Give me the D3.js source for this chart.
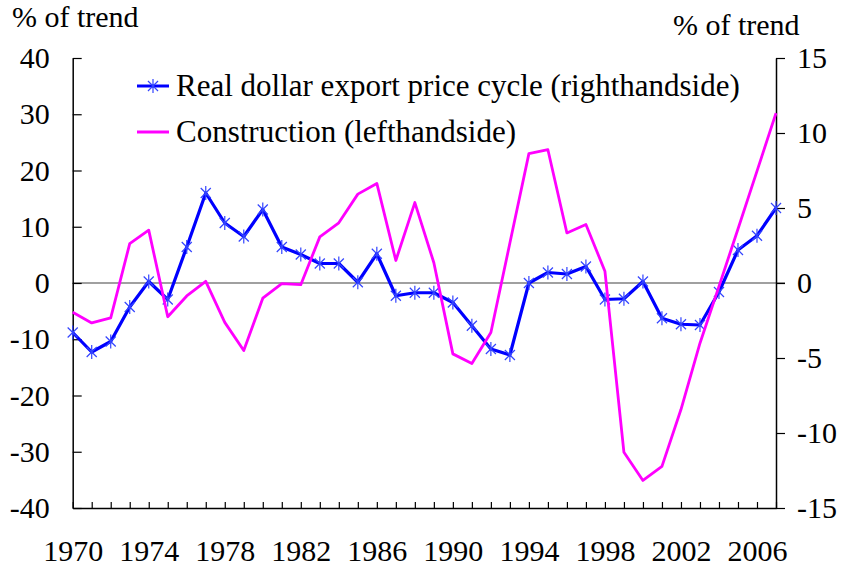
<!DOCTYPE html>
<html>
<head>
<meta charset="utf-8">
<script src="https://cdn.jsdelivr.net/npm/d3@7"></script>
<style>
  body { margin: 0; background: #fff; }
  text { font-family: "Liberation Serif", "Times New Roman", serif; fill: #000; }
</style>
</head>
<body>
<div id="chart"></div>
<script>
// Export price cycle vs construction, % of trend

var years = [1970, 1971, 1972, 1973, 1974, 1975, 1976, 1977, 1978, 1979,
    1980, 1981, 1982, 1983, 1984, 1985, 1986, 1987, 1988, 1989,
    1990, 1991, 1992, 1993, 1994, 1995, 1996, 1997, 1998, 1999,
    2000, 2001, 2002, 2003, 2004, 2005, 2006, 2007];

// righthand axis
var exportPrice = [-3.3, -4.6, -3.9, -1.6, 0.1, -1.1, 2.4, 6.0, 4.0, 3.1,
    4.9, 2.4, 1.9, 1.3, 1.3, 0.05, 1.95, -0.85, -0.65, -0.65,
    -1.3, -2.85, -4.4, -4.8, 0.0, 0.7, 0.6, 1.1, -1.1, -1.05,
    0.1, -2.35, -2.75, -2.8, -0.6, 2.2, 3.15, 5.0];

// lefthand axis
var construction = [-5.2, -7.1, -6.2, 7.0, 9.4, -6.0, -2.3, 0.3, -7.0, -12.0,
    -2.7, -0.1, -0.3, 8.2, 10.7, 15.8, 17.7, 4.0, 14.3, 3.6,
    -12.6, -14.3, -8.8, 7.1, 23.0, 23.7, 8.9, 10.4, 2.1, -30.1,
    -35.1, -32.6, -22.5, -10.7, -0.6, 9.6, 19.9, 30.2];

var yearLabels = [1970, 1974, 1978, 1982, 1986, 1990, 1994, 1998, 2002, 2006];
var leftTicks = [-40, -30, -20, -10, 0, 10, 20, 30, 40];
var rightTicks = [-15, -10, -5, 0, 5, 10, 15];

var seriesNames = ["Real dollar export price cycle (righthandside)", "Construction (lefthandside)"];
var seriesColors = ["#0000ff", "#ff00ff"];

var width = 841;
var height = 568;

var plotLeft = 72.7;
var plotRight = 776;
var plotTop = 58;
var plotBottom = 508;

var svg = d3
    .select("#chart")
    .append("svg")
    .attr("width", width)
    .attr("height", height);

var x = d3.scaleLinear()
    .domain([years[0], years[years.length - 1]])
    .range([plotLeft, plotRight]);

var yLeft = d3.scaleLinear().domain([-40, 40]).range([plotBottom, plotTop]);
var yRight = d3.scaleLinear().domain([-15, 15]).range([plotBottom, plotTop]);

// zero line
svg.append("line")
    .attr("x1", plotLeft)
    .attr("x2", plotRight + 9)
    .attr("y1", yLeft(0))
    .attr("y2", yLeft(0))
    .attr("stroke", "#808080")
    .attr("stroke-width", 1.5);

// axes
var leftAxis = d3.axisLeft(yLeft)
    .tickValues(leftTicks)
    .tickSizeInner(-9)
    .tickSizeOuter(0)
    .tickPadding(23);

var rightAxis = d3.axisRight(yRight)
    .tickValues(rightTicks)
    .tickFormat(d3.format("d"))
    .tickSizeInner(9)
    .tickSizeOuter(0)
    .tickPadding(12);

var bottomAxis = d3.axisBottom(x)
    .tickValues(years)
    .tickFormat(function(d) { return yearLabels.indexOf(d) >= 0 ? d : ""; })
    .tickSizeInner(-6)
    .tickSizeOuter(0)
    .tickPadding(32);

function styleAxis(g) {
    g.select(".domain").attr("stroke", "#000").attr("stroke-width", 1.5);
    g.selectAll(".tick line").attr("stroke", "#000").attr("stroke-width", 1.2);
    g.selectAll("text")
        .style("font-family", "'Liberation Serif', 'Times New Roman', serif")
        .style("font-size", "30px")
        .attr("fill", "#000");
}

svg.append("g")
    .attr("transform", "translate(0," + plotBottom + ")")
    .call(bottomAxis)
    .call(styleAxis);

svg.append("g")
    .attr("transform", "translate(" + plotLeft + ",0)")
    .call(leftAxis)
    .call(styleAxis);

svg.append("g")
    .attr("transform", "translate(" + plotRight + ",0)")
    .call(rightAxis)
    .call(styleAxis);

svg.selectAll(".tick text").text(function() {
    return d3.select(this).text().replace("−", "-");
});

// axis titles
svg.append("text")
    .attr("x", 12)
    .attr("y", 27)
    .style("font-size", "30px")
    .text("% of trend");

svg.append("text")
    .attr("x", 673)
    .attr("y", 35)
    .style("font-size", "30px")
    .text("% of trend");

// star marker: X plus vertical bar
function starPath(r) {
    var d = r * 0.72;
    return "M" + (-d) + "," + (-d) + "L" + d + "," + d +
        "M" + (-d) + "," + d + "L" + d + "," + (-d) +
        "M0," + (-r) + "L0," + r;
}

var lineBlue = d3.line()
    .x(function(d, i) { return x(years[i]); })
    .y(function(d) { return yRight(d); });

var lineMagenta = d3.line()
    .x(function(d, i) { return x(years[i]); })
    .y(function(d) { return yLeft(d); });

svg.append("path")
    .datum(exportPrice)
    .attr("d", lineBlue)
    .attr("fill", "none")
    .attr("stroke", seriesColors[0])
    .attr("stroke-width", 3.2)
    .attr("stroke-linejoin", "round");

svg.selectAll(".star")
    .data(exportPrice)
    .enter()
    .append("path")
    .attr("class", "star")
    .attr("transform", function(d, i) {
        return "translate(" + x(years[i]) + "," + yRight(d) + ")";
    })
    .attr("d", starPath(7))
    .attr("fill", "none")
    .attr("stroke", "#3344ff")
    .attr("stroke-width", 1.2);

svg.append("path")
    .datum(construction)
    .attr("d", lineMagenta)
    .attr("fill", "none")
    .attr("stroke", seriesColors[1])
    .attr("stroke-width", 2.8)
    .attr("stroke-linejoin", "round");

// legend
var legend = svg.append("g").attr("class", "legend");
var legendY = [86, 132];

seriesNames.forEach(function(name, i) {
    legend.append("line")
        .attr("x1", 137)
        .attr("x2", 169)
        .attr("y1", legendY[i])
        .attr("y2", legendY[i])
        .attr("stroke", seriesColors[i])
        .attr("stroke-width", 3);

    if (i === 0) {
        legend.append("path")
            .attr("transform", "translate(153," + legendY[i] + ")")
            .attr("d", starPath(7))
            .attr("fill", "none")
            .attr("stroke", "#3344ff")
            .attr("stroke-width", 1.2);
    }

    legend.append("text")
        .attr("x", 176)
        .attr("y", legendY[i] + 10)
        .style("font-size", "31px")
        .text(name);
});
</script>
</body>
</html>
